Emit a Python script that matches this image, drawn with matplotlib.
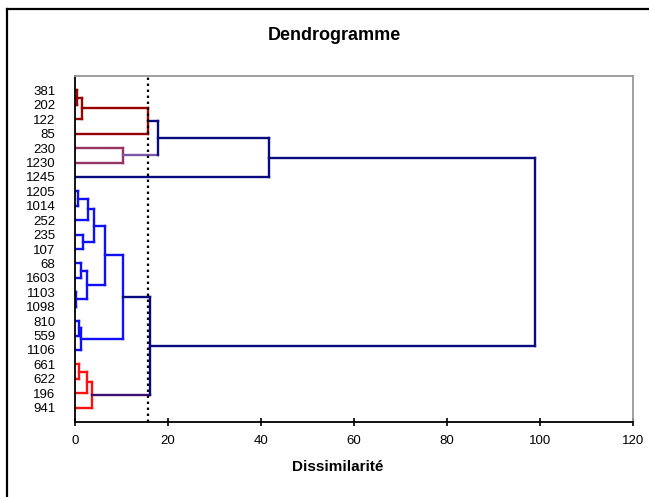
import matplotlib
matplotlib.use("Agg")
import matplotlib.pyplot as plt
from matplotlib.lines import Line2D

plt.rcParams['font.family'] = ['Liberation Sans', 'DejaVu Sans']

# leaves, top to bottom
leaves = ["381", "202", "122", "85", "230", "1230", "1245", "1205", "1014", "252",
          "235", "107", "68", "1603", "1103", "1098", "810", "559", "1106",
          "661", "622", "196", "941"]

# merges: node ids 0..22 are leaves, merge k creates node 23+k
merge_a = [0, 23, 24, 4, 25, 27, 7, 29, 10, 30, 12, 14, 33, 32, 16, 37, 36, 19, 40, 41, 39, 28]
merge_b = [1, 2, 3, 5, 26, 6, 8, 9, 11, 31, 13, 15, 34, 35, 17, 18, 38, 20, 21, 22, 42, 43]
merge_height = [0.5, 1.5, 15.6, 10.4, 17.9, 41.8, 0.7, 2.9, 1.8, 4.1, 1.35, 0.2, 2.5,
                6.5, 0.8, 1.2, 10.4, 0.8, 2.6, 3.6, 16.1, 98.9]
merge_class = ["dr", "dr", "dr", "pu", "nv", "nv", "bl", "bl", "bl", "bl", "bl", "bl",
               "bl", "bl", "bl", "bl", "bl", "rd", "rd", "rd", "nv", "nv"]

cutoff = 15.8
xticks = [0, 20, 40, 60, 80, 100, 120]

colors = {"dr": "#990000", "pu": "#993366", "nv": "#0A0A80", "bl": "#1010FF", "rd": "#FF1010"}
# legs leaving a class toward a navy node are drawn in a blended tone
leg_colors = {"pu": "#7A5AA6", "rd": "#40106E"}

fig = plt.figure(figsize=(6.49, 4.97), dpi=100)
W, H = 649, 497
ax = fig.add_axes([75 / W, 1 - 422 / H, (633 - 75) / W, (422 - 76) / H])

n = len(leaves)
ypos = {i: i + 1 for i in range(n)}
xpos = {i: 0.0 for i in range(n)}
cls = {}
lw = 1.7
for k, (a, b, h, c) in enumerate(zip(merge_a, merge_b, merge_height, merge_class)):
    node = n + k
    col = colors[c]
    for child in (a, b):
        leg = col
        if child in cls and cls[child] != c and cls[child] in leg_colors:
            leg = leg_colors[cls[child]]
        ax.plot([xpos[child], h], [ypos[child], ypos[child]], color=leg, lw=lw,
                solid_capstyle='projecting', zorder=2)
    ax.plot([h, h], [ypos[a], ypos[b]], color=col, lw=lw, solid_capstyle='projecting', zorder=2)
    xpos[node] = h
    ypos[node] = (ypos[a] + ypos[b]) / 2
    cls[node] = c

ax.axvline(cutoff, color="black", lw=1.6, linestyle=(0, (1.1, 1.6)), zorder=3)

ax.set_xlim(0, 120)
ax.set_ylim(24, 0)
ax.set_xticks(xticks)
ax.set_yticks(range(1, n + 1))
ax.set_yticklabels(leaves, fontsize=9.5)
ax.tick_params(axis='y', length=0, pad=14)
ax.tick_params(axis='x', direction='inout', length=6, width=1.2, labelsize=9.5, pad=6)
for s in ("top", "right"):
    ax.spines[s].set_color("#999999")
    ax.spines[s].set_linewidth(1.3)
for s in ("left", "bottom"):
    ax.spines[s].set_color("black")
    ax.spines[s].set_linewidth(1.3)

fig.text(334 / W, 1 - 35 / H, "Dendrogramme", ha='center', va='center',
         fontsize=13, fontweight='bold')
fig.text(338 / W, 1 - 467 / H, "Dissimilarité", ha='center', va='center',
         fontsize=11, fontweight='bold')

# outer chart frame (left and top edges visible)
fig.add_artist(Line2D([7 / W, 7 / W], [0, 1 - 9 / H], transform=fig.transFigure,
                      color='black', lw=1.6))
fig.add_artist(Line2D([7 / W, 1], [1 - 9 / H, 1 - 9 / H], transform=fig.transFigure,
                      color='black', lw=1.6))

fig.savefig("out.png", dpi=100)
